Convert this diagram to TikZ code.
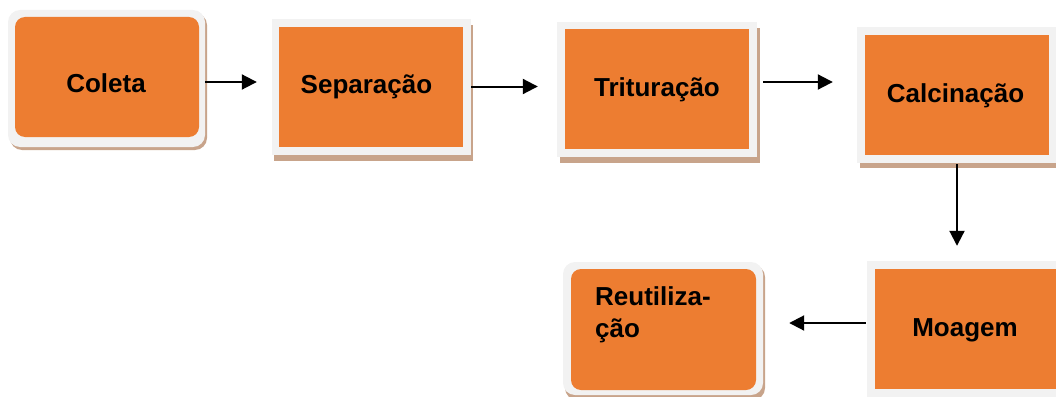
\documentclass[tikz,border=0pt]{standalone}
\usepackage{fontspec}
\setmainfont{Liberation Sans}
\usetikzlibrary{arrows.meta}
\definecolor{frameg}{HTML}{F2F2F2}
\definecolor{orng}{HTML}{ED7D31}
\definecolor{shad}{HTML}{C8A48B}
\tikzset{
  frame/.style={fill=frameg, draw=none, inner sep=0pt},
  inbox/.style={fill=orng, draw=none, inner sep=0pt, font=\bfseries\fontsize{26}{32}\selectfont, text=black},
  lbl/.style={inner sep=0pt, font=\bfseries\fontsize{26}{32}\selectfont, text=black},
  roundf/.style={rounded corners=12pt},
  roundi/.style={rounded corners=10pt},
  arr/.style={draw=black, line width=2pt, -{Triangle[length=15pt,width=15pt]}},
}
\begin{document}
\begin{tikzpicture}[x=1pt,y=-1pt]
\useasboundingbox (0,0) rectangle (1056,396);
% shadows
\fill[shad, rounded corners=12pt] (10,13) rectangle (207,150);
\fill[shad] (274,25) rectangle (473,161);
\fill[shad] (560,28) rectangle (760,163);
\fill[shad] (860,33) rectangle (1060,168);
\fill[shad, rounded corners=12pt] (565,265) rectangle (765,400);
% Coleta
\node[frame, roundf, minimum width=197pt, minimum height=137pt] (coleta) at (106.5,78.5) {};
\node[inbox, roundi, minimum width=184pt, minimum height=120pt] (coletai) at (107,77) {};
\node[lbl, anchor=base] (coletat) at (106,92) {Coleta};
% Separacao
\node[frame, minimum width=199pt, minimum height=136pt] (sep) at (371.5,87) {};
\node[inbox, minimum width=184pt, minimum height=120pt] (sepi) at (371,87) {};
\node[lbl, anchor=base] (sept) at (366.5,93) {Separação};
% Trituracao
\node[frame, minimum width=200pt, minimum height=135pt] (trit) at (657,89.5) {};
\node[inbox, minimum width=184pt, minimum height=120pt] (triti) at (657,89) {};
\node[lbl, anchor=base] (tritt) at (657,96) {Trituração};
% Calcinacao
\node[frame, minimum width=200pt, minimum height=136pt] (calc) at (957,95) {};
\node[inbox, minimum width=184pt, minimum height=120pt] (calci) at (957,95) {};
\node[lbl, anchor=base] (calct) at (955.5,102) {Calcinação};
% Moagem
\node[frame, minimum width=200pt, minimum height=136pt] (moag) at (967,329) {};
\node[inbox, minimum width=184pt, minimum height=120pt] (moagi) at (967,329) {};
\node[lbl, anchor=base] (moagt) at (965,336) {Moagem};
% Reutilizacao
\node[frame, roundf, minimum width=200pt, minimum height=133pt] (reut) at (663,328.5) {};
\node[inbox, roundi, minimum width=185pt, minimum height=121pt] (reuti) at (663.5,329.5) {};
\node[lbl, anchor=base west, align=left] (reutt) at (595,337) {Reutiliza-\\ção};
% arrows
\draw[arr, shorten >=15pt] (coleta.east |- 0,82) -- (sep.west |- 0,82);
\draw[arr, shorten >=19pt] (sep.east |- 0,86.5) -- (trit.west |- 0,86.5);
\draw[arr, shorten <=6pt, shorten >=24pt] (trit.east |- 0,82) -- (calc.west |- 0,82);
\draw[arr, shorten <=1pt, shorten >=15pt] (calc.south) -- (calc.south |- moag.north);
\draw[arr, shorten <=1pt, shorten >=26pt] (moag.west |- 0,323) -- (reut.east |- 0,323);
\end{tikzpicture}
\end{document}
